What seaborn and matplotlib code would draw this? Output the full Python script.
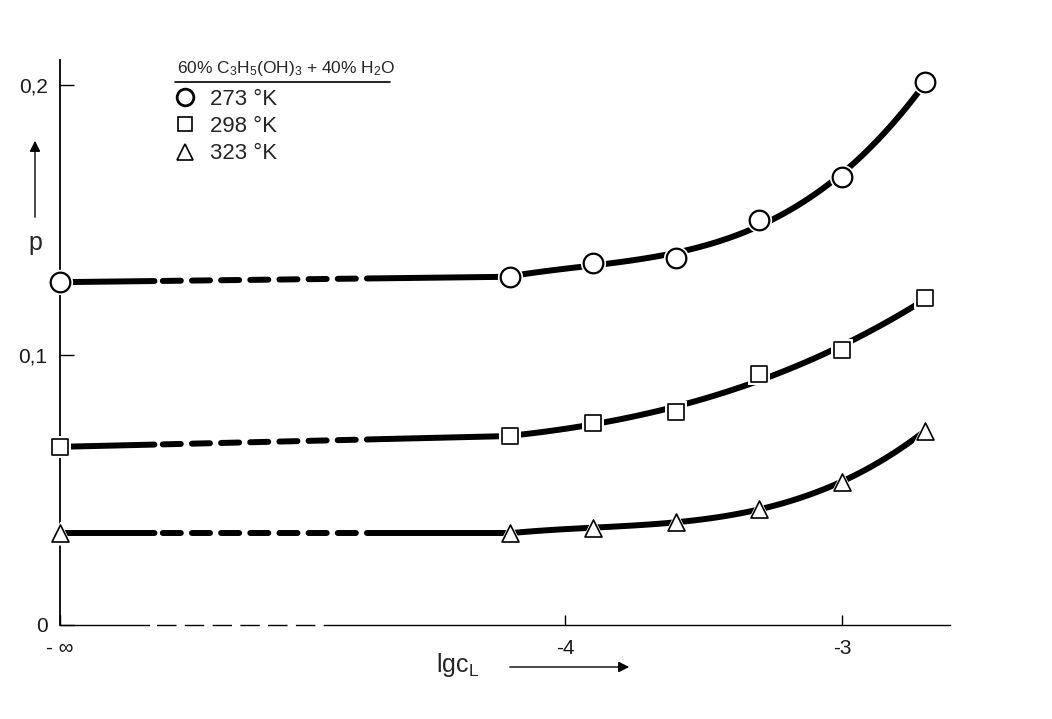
import numpy as np
import pandas as pd
import matplotlib
matplotlib.use("Agg")
import matplotlib.pyplot as plt
import seaborn as sns
from matplotlib.lines import Line2D

# ---------------- data ----------------
lgc_values = [-4.2, -3.9, -3.6, -3.3, -3.0, -2.7]      # finite lg c_L
p_273_inf = 0.127                                        # value at lg c_L = -inf
p_273 = [0.129, 0.134, 0.136, 0.150, 0.166, 0.201]
p_298_inf = 0.066
p_298 = [0.070, 0.075, 0.079, 0.093, 0.102, 0.121]
p_323_inf = 0.034
p_323 = [0.034, 0.036, 0.038, 0.043, 0.053, 0.072]
temperatures = ["273", "298", "323"]
x_tick_values = [-4, -3]
x_tick_labels = ["- \u221e", "-4", "-3"]
y_tick_values = [0, 0.1, 0.2]
y_tick_labels = ["0", "0,1", "0,2"]
legend_title = r"60% C$_3$H$_5$(OH)$_3$ + 40% H$_2$O"

# ---------------- style ----------------
W, H = 1052, 719
sns.set_theme(style="white")
plt.rcParams["font.family"] = ["Liberation Sans", "DejaVu Sans"]
plt.rcParams["lines.scale_dashes"] = False
plt.rcParams["mathtext.fontset"] = "custom"
plt.rcParams["mathtext.rm"] = "Liberation Sans"
plt.rcParams["mathtext.it"] = "Liberation Sans"
FS = 15

NEG_INF_POS = -5.823     # where "-inf" sits on the (broken) x axis
XMAX = -2.61
YMAX = 0.2093

fig = plt.figure(figsize=(W / 100, H / 100), dpi=100)
fig.patch.set_facecolor("white")
ax = fig.add_axes([60 / W, (H - 625) / H, 890 / W, 565 / H])
ax.set_facecolor("white")

series = [
    (p_273_inf, p_273, "o", 200, 330, 1.6),
    (p_298_inf, p_298, "s", 130, 260, 1.2),
    (p_323_inf, p_323, "^", 150, 300, 1.2),
]

dash_break = (0, (68, 6, 13, 8, 13, 8, 13, 8, 13, 8, 13, 8, 13, 8, 13, 8, 400))

for p_inf, p_vals, mk, s, s_halo, mew in series:
    # connection from -inf to first measured point (broken, dashed)
    ax.plot([NEG_INF_POS, lgc_values[0]], [p_inf, p_vals[0]], color="black",
            lw=4.3, linestyle=dash_break, solid_capstyle="butt",
            dash_capstyle="round", zorder=2)
    # smooth curve through measured points
    sns.regplot(x=np.array(lgc_values), y=np.array(p_vals), order=3, ci=None,
                scatter=False, truncate=True, ax=ax,
                line_kws=dict(color="black", lw=4.3, solid_capstyle="round", zorder=2))
    xs = [NEG_INF_POS] + lgc_values
    ys = [p_inf] + p_vals
    # white halo to create gaps in the line around markers
    sns.scatterplot(x=xs, y=ys, marker=mk, s=s_halo, color="white",
                    edgecolor="white", linewidth=0, zorder=4, clip_on=False,
                    ax=ax, legend=False)
    sns.scatterplot(x=xs, y=ys, marker=mk, s=s, color="white",
                    edgecolor="black", linewidth=mew, zorder=5, clip_on=False,
                    ax=ax, legend=False)

ax.set_xlim(NEG_INF_POS, XMAX)
ax.set_ylim(0, YMAX)
ax.set_xlabel("")
ax.set_ylabel("")

ax.set_xticks([NEG_INF_POS] + x_tick_values)
ax.set_xticklabels(x_tick_labels, fontsize=FS)
ax.set_yticks(y_tick_values)
ax.set_yticklabels(y_tick_labels, fontsize=FS)
ax.tick_params(axis="x", direction="in", length=7, width=1, color="black",
               pad=10, labelcolor="#1a1a1a")
ax.tick_params(axis="y", direction="in", length=10, width=1, color="black",
               pad=9, labelcolor="#1a1a1a")
ax.tick_params(bottom=True, left=True)

for side in ["top", "right"]:
    ax.spines[side].set_visible(False)
ax.spines["left"].set_color("black")
ax.spines["left"].set_linewidth(1.3)
ax.spines["bottom"].set_color("black")
ax.spines["bottom"].set_linewidth(1.0)
ax.spines["bottom"].set_linestyle((0, (64, 6, 13, 7, 13, 7, 13, 7, 13, 7, 13, 7, 13, 7, 600)))

# legend
handles = [
    Line2D([], [], marker="o", ls="", mfc="white", mec="black", ms=12, mew=2),
    Line2D([], [], marker="s", ls="", mfc="white", mec="black", ms=10, mew=1.2),
    Line2D([], [], marker="^", ls="", mfc="white", mec="black", ms=12, mew=1.2),
]
labels = [f"{t} \u00b0K" for t in temperatures]
fig.legend(handles, labels, loc="upper left",
           bbox_to_anchor=(174 / W, 1 - 89 / H), frameon=False, fontsize=FS + 1,
           borderpad=0, borderaxespad=0, handlelength=1.0, handletextpad=0.6,
           labelspacing=0.28)
fig.text(177 / W, 1 - 69 / H, legend_title, ha="left", va="center", fontsize=12.5)
fig.add_artist(Line2D([175 / W, 390 / W], [1 - 82 / H] * 2, color="black", lw=1.2))

# axis labels with arrows
fig.text(458 / W, 1 - 665 / H, r"lgc$_{\mathrm{L}}$", ha="center", va="center", fontsize=FS + 3)
ax.annotate("", xy=(632 / W, 1 - 667 / H), xytext=(507 / W, 1 - 667 / H),
            xycoords="figure fraction", textcoords="figure fraction",
            arrowprops=dict(arrowstyle="-|>", color="black", lw=1, mutation_scale=16))
fig.text(35 / W, 1 - 243 / H, "p", ha="center", va="center", fontsize=FS + 3)
ax.annotate("", xy=(35 / W, 1 - 138 / H), xytext=(35 / W, 1 - 220 / H),
            xycoords="figure fraction", textcoords="figure fraction",
            arrowprops=dict(arrowstyle="-|>", color="black", lw=1, mutation_scale=16))

fig.savefig("out.png", dpi=100, facecolor="white")
